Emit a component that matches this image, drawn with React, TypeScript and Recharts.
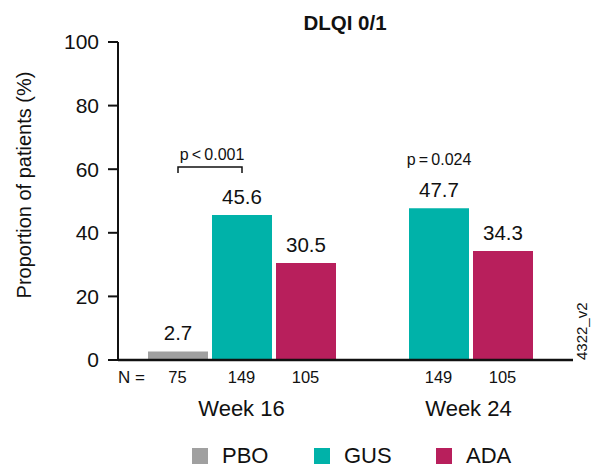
import React from "react";
import { BarChart, Bar, XAxis, YAxis, Legend, LabelList } from "recharts";

const weeks = ["Week 16", "Week 24"];
const pboValues = [2.7, null];
const gusValues = [45.6, 47.7];
const adaValues = [30.5, 34.3];
const pboN = [75, null];
const gusN = [149, 149];
const adaN = [105, 105];
const pValues = ["p\u2009<\u20090.001", "p\u2009=\u20090.024"];
const pBracket = [true, false];
const yTicks = [0, 20, 40, 60, 80, 100];
const seriesNames = ["PBO", "GUS", "ADA"];
const seriesColors = ["#a0a0a0", "#00b2a9", "#b81f5c"];

const FONT = '"Liberation Sans", Arial, Helvetica, sans-serif';
const INK = "#111";
const BAR_SIZE = 60;
const BAR_GAP = 4;
const STEP = BAR_SIZE + BAR_GAP;

const data = weeks.map((week, i) => ({
  week,
  PBO: pboValues[i],
  GUS: gusValues[i],
  ADA: adaValues[i],
  n: [pboN[i], gusN[i], adaN[i]],
  p: pValues[i],
  bracket: pBracket[i],
}));

const box = (props: any) => {
  const vb = props.viewBox || {};
  return {
    x: vb.x ?? props.x,
    y: vb.y ?? props.y,
    width: vb.width ?? props.width,
    height: vb.height ?? props.height,
  };
};

const valueLabel = (props: any) => {
  const { value } = props;
  if (value == null || value === "") return null;
  const { x, y, width } = box(props);
  return (
    <text
      x={x + width / 2}
      y={y - 11}
      textAnchor="middle"
      fontSize={20.5}
      fontFamily={FONT}
      fill={INK}
    >
      {Number(value).toFixed(1)}
    </text>
  );
};

// GUS label also carries the p-value annotation for its week
const gusLabel = (props: any) => {
  const { value, index } = props;
  if (value == null) return null;
  const { x, y, width, height } = box(props);
  const row = data[index];
  const cx = x + width / 2;
  const ppu = height / Number(value);
  const at = (v: number) => y + height - v * ppu;
  let pText;
  if (row.bracket) {
    const x1 = cx - STEP;
    const yb = at(60.7);
    pText = (
      <g>
        <path
          d={`M${x1},${yb + 6}V${yb}H${cx}V${yb + 6}`}
          fill="none"
          stroke={INK}
          strokeWidth={1.5}
        />
        <text x={(x1 + cx) / 2 + 2} y={yb - 7} textAnchor="middle" fontSize={16} fontFamily={FONT} fill={INK}>
          {row.p}
        </text>
      </g>
    );
  } else {
    pText = (
      <text x={cx} y={at(61.3)} textAnchor="middle" fontSize={16} fontFamily={FONT} fill={INK}>
        {row.p}
      </text>
    );
  }
  return (
    <g>
      {valueLabel(props)}
      {pText}
    </g>
  );
};

const renderTick = (props: any) => {
  const { x, y, payload } = props;
  const row = data[payload.index];
  const shift = row.PBO == null ? STEP / 2 - 2 : 0;
  return (
    <g fontFamily={FONT} fill={INK}>
      {payload.index === 0 && (
        <text x={x - STEP - 46} y={y + 23} textAnchor="middle" fontSize={17}>
          N =
        </text>
      )}
      {row.n.map((n, k) =>
        n == null ? null : (
          <text key={k} x={x + (k - 1) * STEP} y={y + 23} textAnchor="middle" fontSize={16.5}>
            {n}
          </text>
        )
      )}
      <text x={x + shift} y={y + 56} textAnchor="middle" fontSize={22}>
        {row.week}
      </text>
    </g>
  );
};

const renderLegend = () => (
  <div style={{ display: "flex", alignItems: "center", fontFamily: FONT, height: 22 }}>
    {seriesNames.map((name, i) => (
      <div
        key={name}
        style={{ display: "flex", alignItems: "center", width: 122, flex: "none", height: 22 }}
      >
        <div style={{ width: 16, height: 16, background: seriesColors[i], marginRight: 14 }} />
        <span style={{ fontSize: 22, lineHeight: "22px", color: INK }}>{name}</span>
      </div>
    ))}
  </div>
);

export default function App() {
  return (
    <div style={{ position: "absolute", left: 0, top: 0, width: 595, height: 467 }}>
      <BarChart
        width={595}
        height={467}
        data={data}
        margin={{ top: 42, right: 22, bottom: 27, left: 0 }}
        barGap={BAR_GAP}
        barSize={BAR_SIZE}
      >
        <XAxis
          dataKey="week"
          padding={{ left: 25, right: 36 }}
          height={80}
          tickLine={false}
          tickSize={0}
          tickMargin={0}
          axisLine={{ stroke: INK, strokeWidth: 2.5 }}
          tick={renderTick}
          interval={0}
        />
        <YAxis
          width={118}
          domain={[0, 100]}
          ticks={yTicks}
          tickSize={10}
          tickMargin={9}
          tick={{ fontSize: 21, fill: INK, fontFamily: FONT }}
          tickLine={{ stroke: INK, strokeWidth: 2 }}
          axisLine={{ stroke: INK, strokeWidth: 2 }}
        />
        <Legend
          verticalAlign="middle"
          align="center"
          layout="horizontal"
          wrapperStyle={{ top: 445, left: 192, width: 380, height: 22 }}
          content={renderLegend}
        />
        <Bar dataKey="PBO" name={seriesNames[0]} fill={seriesColors[0]} isAnimationActive={false}>
          <LabelList dataKey="PBO" content={valueLabel} />
        </Bar>
        <Bar dataKey="GUS" name={seriesNames[1]} fill={seriesColors[1]} isAnimationActive={false}>
          <LabelList dataKey="GUS" content={gusLabel} />
        </Bar>
        <Bar dataKey="ADA" name={seriesNames[2]} fill={seriesColors[2]} isAnimationActive={false}>
          <LabelList dataKey="ADA" content={valueLabel} />
        </Bar>
      </BarChart>
      <svg
        width={595}
        height={467}
        style={{ position: "absolute", left: 0, top: 0, pointerEvents: "none" }}
        fontFamily={FONT}
        fill={INK}
      >
        <text x={345} y={30} textAnchor="middle" fontSize={20.5} fontWeight="bold">
          DLQI 0/1
        </text>
        <text
          x={24}
          y={185}
          textAnchor="middle"
          dominantBaseline="central"
          fontSize={20}
          transform="rotate(-90, 24, 185)"
        >
          Proportion of patients (%)
        </text>
        <text x={587} y={360} fontSize={15} transform="rotate(-90, 587, 360)">
          4322_v2
        </text>
      </svg>
    </div>
  );
}
